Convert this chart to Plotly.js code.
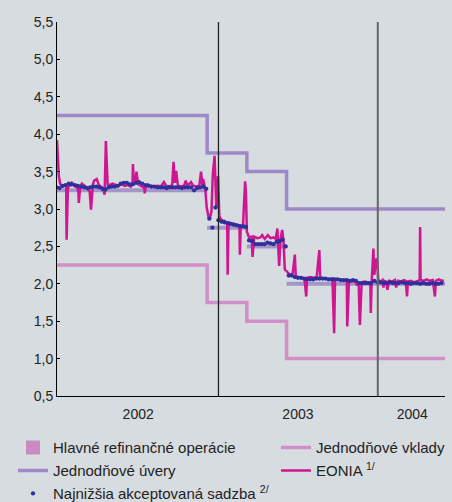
<!DOCTYPE html>
<html><head><meta charset="utf-8">
<script src="https://cdn.plot.ly/plotly-3.0.1.min.js"></script>
<style>html,body{margin:0;padding:0;background:#d7dce0;} #chart{width:452px;height:502px;}</style>
</head><body><div id="chart"></div>
<script>
// ---- data ----
const rateDates = ['2001-12-27','2002-12-06','2003-03-07','2003-06-06','2004-06-03'];
const mroRates = [3.25, 2.75, 2.50, 2.00];
const lendingRates = [4.25, 3.75, 3.50, 3.00];
const depositRates = [2.25, 1.75, 1.50, 1.00];

const eoniaDates = ['2001-12-27','2001-12-31','2002-01-03','2002-01-08','2002-01-14','2002-01-17','2002-01-18','2002-01-21','2002-01-25','2002-01-30',
'2002-02-05','2002-02-12','2002-02-14','2002-02-15','2002-02-18','2002-02-22','2002-02-28','2002-03-05','2002-03-12','2002-03-15',
'2002-03-19','2002-03-22','2002-03-28','2002-04-02','2002-04-09','2002-04-12','2002-04-15','2002-04-18','2002-04-22','2002-04-26',
'2002-05-03','2002-05-10','2002-05-17','2002-05-24','2002-05-31','2002-06-07','2002-06-14','2002-06-18','2002-06-19','2002-06-21',
'2002-06-25','2002-06-27','2002-07-01','2002-07-10','2002-07-15','2002-07-16','2002-07-18','2002-07-23','2002-07-30','2002-08-07',
'2002-08-15','2002-08-22','2002-08-29','2002-09-03','2002-09-10','2002-09-17','2002-09-20','2002-09-23','2002-09-26','2002-09-30',
'2002-10-07','2002-10-14','2002-10-18','2002-10-22','2002-10-30','2002-11-04','2002-11-12','2002-11-18','2002-11-22','2002-11-25',
'2002-11-27','2002-12-02','2002-12-05','2002-12-09','2002-12-12','2002-12-16','2002-12-19','2002-12-23','2002-12-27','2002-12-31',
'2003-01-03','2003-01-08','2003-01-15','2003-01-21','2003-01-22','2003-01-24','2003-01-31','2003-02-07','2003-02-14','2003-02-18',
'2003-02-19','2003-02-21','2003-02-26','2003-03-03','2003-03-05','2003-03-07','2003-03-12','2003-03-18','2003-03-20','2003-03-24',
'2003-03-31','2003-04-07','2003-04-11','2003-04-17','2003-04-24','2003-04-30','2003-05-07','2003-05-12','2003-05-16','2003-05-20',
'2003-05-23','2003-05-27','2003-05-30','2003-06-02','2003-06-06','2003-06-13','2003-06-20','2003-06-25','2003-06-27','2003-07-04',
'2003-07-11','2003-07-17','2003-07-21','2003-07-23','2003-07-30','2003-08-07','2003-08-14','2003-08-20','2003-08-22','2003-08-29',
'2003-09-05','2003-09-12','2003-09-19','2003-09-23','2003-09-25','2003-10-02','2003-10-09','2003-10-16','2003-10-22','2003-10-23',
'2003-10-27','2003-11-03','2003-11-10','2003-11-14','2003-11-18','2003-11-21','2003-11-25','2003-12-02','2003-12-09','2003-12-15',
'2003-12-16','2003-12-18','2003-12-22','2003-12-24','2003-12-29','2003-12-31','2004-01-02','2004-01-07','2004-01-12','2004-01-14',
'2004-01-16','2004-01-21','2004-01-23','2004-01-27','2004-02-03','2004-02-09','2004-02-12','2004-02-16','2004-02-23','2004-03-01',
'2004-03-05','2004-03-08','2004-03-10','2004-03-17','2004-03-24','2004-03-31','2004-04-06','2004-04-07','2004-04-08','2004-04-15',
'2004-04-22','2004-04-29','2004-05-06','2004-05-11','2004-05-13','2004-05-20','2004-05-27','2004-05-31'];
const eoniaValues = [3.92,3.45,3.34,3.30,3.32,3.31,2.59,3.29,3.31,3.35,
3.31,3.28,3.22,3.08,3.30,3.34,3.31,3.29,3.23,2.99,
3.32,3.38,3.40,3.32,3.29,3.27,3.19,3.91,3.33,3.32,
3.34,3.33,3.31,3.33,3.31,3.32,3.30,3.35,3.60,3.36,
3.38,3.50,3.33,3.30,3.28,3.21,3.29,3.33,3.31,3.30,
3.31,3.30,3.36,3.31,3.30,3.32,3.63,3.35,3.51,3.31,
3.30,3.31,3.38,3.31,3.36,3.31,3.30,3.31,3.50,3.32,
3.40,3.25,3.02,2.90,2.87,2.97,3.46,3.71,3.02,3.44,
2.90,2.85,2.84,2.80,2.12,2.82,2.81,2.80,2.79,2.78,
2.39,2.77,2.76,3.37,3.21,2.70,2.62,2.63,2.36,2.63,
2.61,2.62,2.65,2.60,2.65,2.61,2.62,2.60,2.74,2.24,
2.60,2.72,2.57,2.19,2.17,2.12,2.14,2.39,2.10,2.09,
2.08,2.07,1.83,2.08,2.09,2.08,2.09,2.45,2.08,2.07,
2.07,2.06,2.07,1.34,2.05,2.06,2.05,2.05,2.04,1.43,
2.04,2.03,2.04,1.98,2.03,1.45,2.02,2.03,2.02,2.01,
1.61,2.03,2.47,2.12,2.34,2.30,2.05,2.03,2.05,1.95,
2.04,2.03,1.92,2.04,2.03,2.05,1.95,2.04,2.03,2.05,
2.04,1.83,2.03,2.04,2.02,2.04,2.05,2.76,2.05,2.04,
2.06,2.04,2.05,1.83,2.04,2.06,2.04,2.05];

// weekly main refinancing tenders: marginal (lowest accepted) rate
const tenderStart = '2001-12-26';
const tenderValues = [3.29,3.28,3.31,3.32,3.34,3.33,3.32,3.31,3.30,3.29,
3.28,3.29,3.30,3.30,3.29,3.27,3.26,3.29,3.30,3.30,
3.31,3.34,3.35,3.35,3.33,3.33,3.35,3.36,3.34,3.32,
3.31,3.30,3.30,3.29,3.29,3.29,3.28,3.29,3.29,3.29,
3.29,3.28,3.29,3.29,3.29,3.25,3.28,3.29,3.30,3.27,
2.87,2.75,3.02,
2.85,2.83,2.82,2.81,2.80,2.79,2.78,2.77,2.77,2.76,
2.58,2.57,2.53,2.53,2.53,2.53,2.55,2.54,2.53,2.56,2.57,2.59,2.50,
2.11,2.11,2.09,2.08,2.08,2.07,2.06,2.06,2.06,2.07,
2.07,2.07,2.07,2.06,2.06,2.06,2.06,2.05,2.05,2.05,
2.04,2.05,2.04,2.01,2.01,2.01,2.01,2.01,2.04,2.02,
2.02,2.01,2.01,2.02,2.01,2.01,2.01,2.02,2.01,2.01,2.00,2.01,2.01,2.00,2.01,2.00,2.00,2.01,2.00,2.00,2.01];

const yearLabels = ['2002','2003','2004'];
const yearLabelDates = ['2002-07-01','2003-07-02','2004-03-20'];
const yearBoundaries = ['2003-01-01','2004-01-01'];
const xRange = ['2001-12-27','2004-06-03'];

const names = {
  mro: 'Hlavné refinančné operácie',
  deposit: 'Jednodňové vklady',
  lending: 'Jednodňové úvery',
  eonia: 'EONIA <sup>1/</sup>',
  tender: 'Najnižšia akceptovaná sadzba <sup>2/</sup>'
};

// ---- build ----
function stepY(vals){ return vals.concat([vals[vals.length-1]]); }
const mroX = [], mroY = [];
for (let i = 0; i < mroRates.length; i++) {
  mroX.push(rateDates[i], rateDates[i+1], null);
  mroY.push(mroRates[i], mroRates[i], null);
}
const tenderDates = [];
const t0 = new Date(tenderStart + 'T00:00:00Z');
for (let i = 0; i < tenderValues.length; i++) {
  const d = new Date(t0.getTime() + i*7*86400000);
  tenderDates.push(d.toISOString().slice(0,10));
}

const traces = [
  {x: rateDates, y: stepY(lendingRates), mode:'lines', line:{shape:'hv', color:'#9e89c7', width:3.5},
   name: names.lending, legend:'legend', legendgroup:'b', legendrank:2, hoverinfo:'skip'},
  {x: rateDates, y: stepY(depositRates), mode:'lines', line:{shape:'hv', color:'#d08fc6', width:3.5},
   name: names.deposit, legend:'legend2', legendgroup:'d', legendrank:1, hoverinfo:'skip'},
  {x: mroX, y: mroY, mode:'lines', line:{color:'#a595c8', width:4}, connectgaps:false,
   showlegend:false, hoverinfo:'skip'},
  {x: [null], y: [null], mode:'markers', marker:{symbol:'square', size:14, color:'#c98cc2'},
   name: names.mro, legend:'legend', legendgroup:'a', legendrank:1},
  {x: eoniaDates, y: eoniaValues, mode:'lines', line:{color:'#cf1690', width:2.5},
   name: names.eonia, legend:'legend2', legendgroup:'e', legendrank:2, hoverinfo:'skip'},
  {x: tenderDates, y: tenderValues, mode:'markers', marker:{color:'#2d2f9c', size:4.3},
   name: names.tender, legend:'legend', legendgroup:'c', legendrank:3, hoverinfo:'skip'}
];

const legendCommon = {xanchor:'left', yanchor:'top',
  bgcolor:'rgba(0,0,0,0)', borderwidth:0, maxheight:300,
  font:{size:15, color:'#222'}, tracegroupgap:0.5, traceorder:'grouped', orientation:'v'};

const layout = {
  width:452, height:502,
  margin:{l:57, r:7, t:22, b:106, autoexpand:false},
  paper_bgcolor:'#d7dce0', plot_bgcolor:'#d7dce0',
  separators:', ',
  font:{family:'"Liberation Sans", Arial, sans-serif', size:14, color:'#222'},
  xaxis:{type:'date', range:xRange, showgrid:false, zeroline:false, showline:true, linecolor:'#000', linewidth:1,
         ticks:'outside', ticklen:5, tickcolor:'rgba(0,0,0,0)', tickvals:yearLabelDates, ticktext:yearLabels,
         fixedrange:true, automargin:false},
  yaxis:{range:[0.5,5.5], tick0:0.5, dtick:0.5, tickformat:'.1f', showgrid:false, zeroline:false,
         showline:true, linecolor:'#000', linewidth:1, ticks:'inside', ticklen:3, tickcolor:'#000', fixedrange:true,
         automargin:false},
  shapes: yearBoundaries.map((d,i) => ({type:'line', xref:'x', yref:'paper', x0:d, x1:d, y0:0, y1:1,
         line:{color: i===0 ? '#222' : '#666', width: i===0 ? 1.3 : 2}, layer:'above'})),
  legend: Object.assign({x:-0.1134, y:-0.094}, legendCommon),
  legend2: Object.assign({x:0.5644, y:-0.094}, legendCommon),
  showlegend:true
};

Plotly.newPlot('chart', traces, layout, {staticPlot:true, displayModeBar:false});
</script></body></html>
